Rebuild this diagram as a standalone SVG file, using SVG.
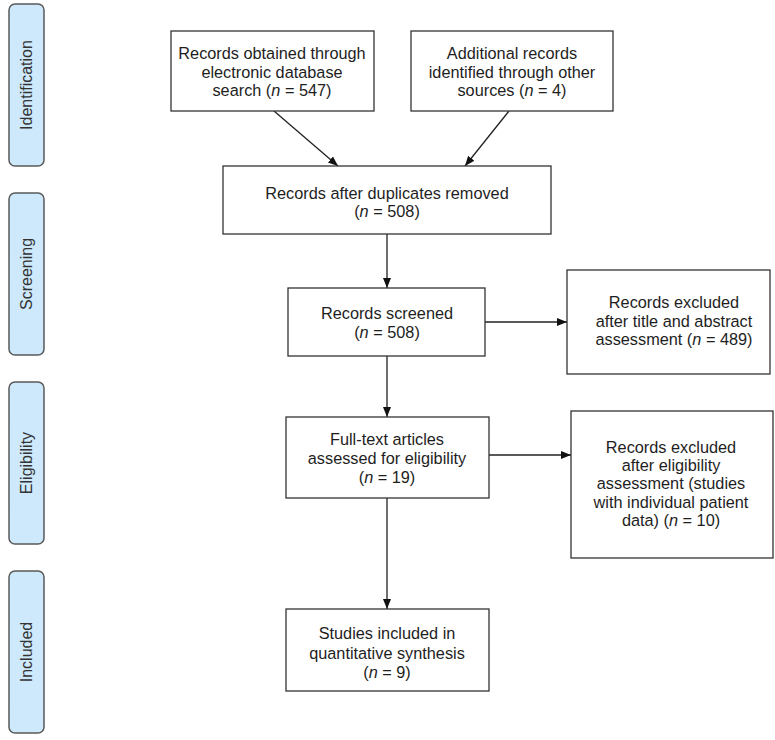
<svg xmlns="http://www.w3.org/2000/svg" width="775" height="740" viewBox="0 0 775 740">
<style>
.phase{fill:#cde9fb;stroke:#5a5a5a;stroke-width:1.5}
.box{fill:#fff;stroke:#333;stroke-width:1.3}
.t{font-family:"Liberation Sans",Arial,sans-serif;font-size:16.3px;fill:#1e1e1e;text-anchor:middle}
.pt{font-family:"Liberation Sans",Arial,sans-serif;font-size:16px;fill:#333;text-anchor:middle}
.c{fill:none;stroke:#222;stroke-width:1.3;marker-end:url(#ah)}
</style>
<defs>
<marker id="ah" viewBox="0 0 10 10" refX="10" refY="5" markerWidth="10" markerHeight="10" markerUnits="userSpaceOnUse" orient="auto">
<path d="M0,1 L10,5 L0,9 Z" fill="#111"/>
</marker>
</defs>
<rect width="775" height="740" fill="#fff"/>
<g id="phase-identification"><rect class="phase" x="9" y="4" width="35" height="162" rx="6"/><text class="pt" transform="translate(32,85) rotate(-90)">Identification</text></g>
<g id="phase-screening"><rect class="phase" x="9" y="193" width="35" height="162" rx="6"/><text class="pt" transform="translate(32,274) rotate(-90)">Screening</text></g>
<g id="phase-eligibility"><rect class="phase" x="9" y="382" width="35" height="162" rx="6"/><text class="pt" transform="translate(32,463) rotate(-90)">Eligibility</text></g>
<g id="phase-included"><rect class="phase" x="9" y="571" width="35" height="162" rx="6"/><text class="pt" transform="translate(32,652) rotate(-90)">Included</text></g>

<g id="connectors">
<line class="c" x1="274" y1="111" x2="338" y2="166"/>
<line class="c" x1="509" y1="111" x2="465" y2="166"/>
<line class="c" x1="387" y1="234" x2="387" y2="288"/>
<line class="c" x1="485" y1="322" x2="567" y2="322"/>
<line class="c" x1="387" y1="356" x2="387" y2="417"/>
<line class="c" x1="489" y1="455" x2="571" y2="455"/>
<line class="c" x1="387" y1="498" x2="387" y2="609"/>
</g>

<g id="n1"><rect class="box" x="171" y="31" width="203" height="80"/>
<text class="t" x="272" y="59">Records obtained through</text>
<text class="t" x="272" y="78">electronic database</text>
<text class="t" x="272" y="96">search (<tspan font-style="italic">n</tspan> = 547)</text></g>

<g id="n2"><rect class="box" x="411" y="31" width="202" height="80"/>
<text class="t" x="512" y="59">Additional records</text>
<text class="t" x="512" y="78">identified through other</text>
<text class="t" x="512" y="96">sources (<tspan font-style="italic">n</tspan> = 4)</text></g>

<g id="n3"><rect class="box" x="223" y="166" width="328" height="68"/>
<text class="t" x="387" y="199">Records after duplicates removed</text>
<text class="t" x="387" y="217">(<tspan font-style="italic">n</tspan> = 508)</text></g>

<g id="n4"><rect class="box" x="288" y="288" width="197" height="68"/>
<text class="t" x="387" y="319">Records screened</text>
<text class="t" x="387" y="338">(<tspan font-style="italic">n</tspan> = 508)</text></g>

<g id="n5"><rect class="box" x="567" y="270" width="203" height="104"/>
<text class="t" x="674" y="308">Records excluded</text>
<text class="t" x="674" y="327">after title and abstract</text>
<text class="t" x="674" y="345">assessment (<tspan font-style="italic">n</tspan> = 489)</text></g>

<g id="n6"><rect class="box" x="286" y="417" width="203" height="81"/>
<text class="t" x="387" y="445">Full-text articles</text>
<text class="t" x="387" y="464">assessed for eligibility</text>
<text class="t" x="387" y="483">(<tspan font-style="italic">n</tspan> = 19)</text></g>

<g id="n7"><rect class="box" x="571" y="411" width="202" height="147"/>
<text class="t" x="671" y="453">Records excluded</text>
<text class="t" x="671" y="471">after eligibility</text>
<text class="t" x="671" y="489">assessment (studies</text>
<text class="t" x="671" y="508">with individual patient</text>
<text class="t" x="671" y="526">data) (<tspan font-style="italic">n</tspan> = 10)</text></g>

<g id="n8"><rect class="box" x="286" y="609" width="203" height="82"/>
<text class="t" x="387" y="639">Studies included in</text>
<text class="t" x="387" y="659">quantitative synthesis</text>
<text class="t" x="387" y="678">(<tspan font-style="italic">n</tspan> = 9)</text></g>
</svg>
